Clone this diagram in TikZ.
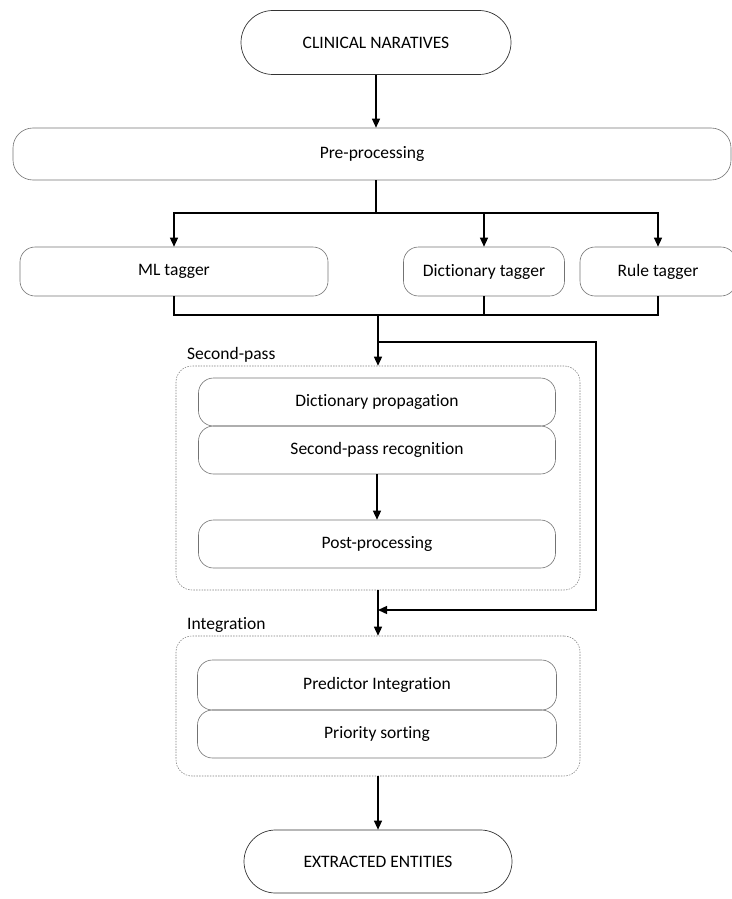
\documentclass[tikz,border=0pt]{standalone}
\usepackage{fontspec}
\setmainfont{Carlito}[RawFeature=-liga]
\usetikzlibrary{positioning,shapes.misc,arrows.meta}

\begin{document}
\begin{tikzpicture}[x=1pt,y=-1pt,
        font=\fontsize{17.5}{21}\selectfont,
        endbox/.style={draw=black!80,line width=0.7pt,rounded rectangle,minimum width=270pt,minimum height=64pt,inner sep=0pt},
        stepbox/.style={draw=black!55,line width=0.6pt,rounded corners=15pt,minimum height=48pt,inner sep=0pt},
        groupbox/.style={draw=black!50,line width=0.55pt,dash pattern=on 1.5pt off 1.2pt,rounded corners=16pt,minimum width=404pt,inner sep=0pt},
        flow/.style={line width=1.3pt},
        arr/.style={flow,-{Triangle[length=9pt,width=8pt]}}]
        \useasboundingbox (0,0) rectangle (731,899);
        \node[endbox] (start) at (376,42.5) {CLINICAL NARATIVES};
        \node[stepbox,minimum width=718pt,minimum height=52pt,rounded corners=20pt] (pre) at (372,154) {Pre-processing};
        \node[stepbox,minimum width=308pt,minimum height=49pt] (ml) at (174,271.5) {ML tagger};
        \node[stepbox,minimum width=161pt,minimum height=49pt] (dict) at (484,271.5) {Dictionary tagger};
        \node[stepbox,minimum width=156pt,minimum height=49pt] (rule) at (658,271.5) {Rule tagger};
        \node[groupbox,minimum height=224pt] (sp) at (378,478) {};
        \node[anchor=south west,inner sep=1pt] (splabel) at (186,364) {Second-pass};
        \node[stepbox,minimum width=357pt] (dprop) at (377,402) {Dictionary propagation};
        \node[stepbox,minimum width=357pt] (sprec) at (377,450) {Second-pass recognition};
        \node[stepbox,minimum width=357pt] (post) at (377,544) {Post-processing};
        \node[groupbox,minimum height=140pt] (integ) at (378,706) {};
        \node[anchor=south west,inner sep=1pt] (intlabel) at (186,634) {Integration};
        \node[stepbox,minimum width=359pt,minimum height=50pt] (pint) at (377,685) {Predictor Integration};
        \node[stepbox,minimum width=359pt] (psort) at (377,734) {Priority sorting};
        \node[endbox,minimum width=268pt,minimum height=63pt] (end) at (378,861.5) {EXTRACTED ENTITIES};

        \coordinate (split) at (376,213);
        \coordinate (merge) at (378,315);
        \coordinate (fork) at (378,342);
        \coordinate (bypassTop) at (596,342);
        \coordinate (bypassBot) at (596,610);
        \coordinate (join) at (378,610);

        \draw[arr] (start.south) -- (start.south |- pre.north);
        \draw[flow] (split |- pre.south) -- (split);
        \draw[arr] (split) -| (ml.north);
        \draw[arr] (split) -| (dict.north);
        \draw[arr] (split) -| (rule.north);
        \draw[flow] (ml.south) |- (merge);
        \draw[flow] (rule.south) |- (merge);
        \draw[flow] (dict.south) -- (dict.south |- merge);
        \draw[arr] (merge) -- (sp.north);
        \draw[arr] (fork) -- (bypassTop) -- (bypassBot) -- (join);
        \draw[arr] (sprec) -- (post);
        \draw[arr] (sp.south) -- (integ.north);
        \draw[arr] (integ.south) -- (end.north);
\end{tikzpicture}
\end{document}
